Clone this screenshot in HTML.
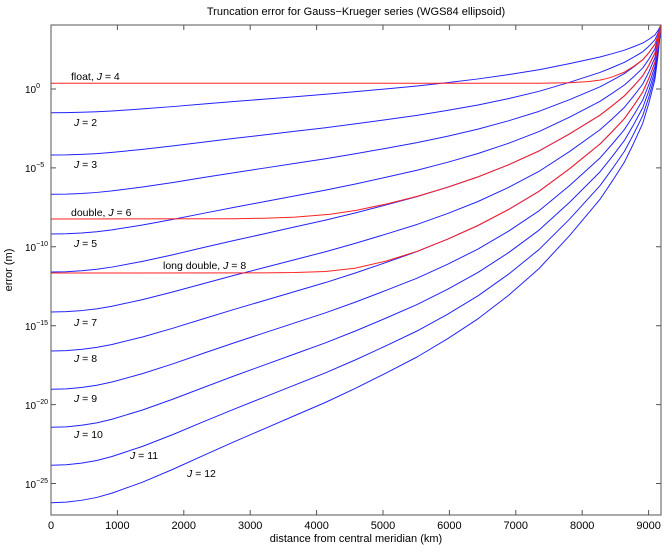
<!DOCTYPE html>
<html><head><meta charset="utf-8"><style>
html,body{margin:0;padding:0;background:#fff;}
svg{display:block;font-family:"Liberation Sans",sans-serif;}
</style></head><body>
<svg width="672" height="552" viewBox="0 0 672 552" xmlns="http://www.w3.org/2000/svg">
<defs>
<polyline id="b" fill="none" stroke="#2222ff" stroke-width="1" vector-effect="non-scaling-stroke" stroke-linejoin="round"
points="0,0 0.025,0.0012 0.05,0.005 0.075,0.011 0.1,0.02 0.15,0.043 0.2,0.07 0.25,0.099 0.3,0.1275 0.35,0.155 0.4,0.1825 0.45,0.21 0.5,0.24 0.55,0.272 0.6,0.305 0.65,0.343 0.7,0.385 0.75,0.434 0.8,0.49 0.85,0.559 0.9,0.635 0.92,0.673 0.94,0.713 0.955,0.752 0.97,0.794 0.98,0.836 0.99,0.886 0.995,0.935 1,1"/>
</defs>
<rect x="0" y="0" width="672" height="552" fill="#fff"/>
<text x="356" y="15" font-size="11" text-anchor="middle">Truncation error for Gauss−Krueger series (WGS84 ellipsoid)</text>
<g>
<use href="#b" transform="translate(51,112.7) scale(610,-87.7)"/>
<use href="#b" transform="translate(51,155) scale(610,-130)"/>
<use href="#b" transform="translate(51,194.3) scale(610,-169.3)"/>
<use href="#b" transform="translate(51,234) scale(610,-209)"/>
<use href="#b" transform="translate(51,272) scale(610,-247)"/>
<use href="#b" transform="translate(51,312) scale(610,-287)"/>
<use href="#b" transform="translate(51,351) scale(610,-326)"/>
<use href="#b" transform="translate(51,389.3) scale(610,-364.3)"/>
<use href="#b" transform="translate(51,427.3) scale(610,-402.3)"/>
<use href="#b" transform="translate(51,465.3) scale(610,-440.3)"/>
<use href="#b" transform="translate(51,502.7) scale(610,-477.7)"/>
</g>
<g transform="translate(51,0) scale(610,1)" fill="none" stroke="#ff2222" stroke-width="1" stroke-linejoin="round">
<polyline vector-effect="non-scaling-stroke" points="0,83.3 0.8,83.2 0.85,82.7 0.88,81.6 0.9,80.1 0.911,78.55 0.92,76.95 0.94,72.1 0.955,66.4 0.97,59.7 0.98,52.8 0.99,44.3 0.995,36 1,25"/>
<polyline vector-effect="non-scaling-stroke" points="0,219 0.3,218.7 0.35,218.2 0.4,217.1 0.458,214.25 0.5,210.4 0.55,204 0.6,196.4 0.65,187.3 0.7,176.9 0.75,164.8 0.8,151 0.85,133.9 0.9,115.2 0.92,105.8 0.94,95.9 0.955,86.3 0.97,75.9 0.98,65.5 0.99,53.2 0.995,41.1 1,25"/>
<polyline vector-effect="non-scaling-stroke" points="0,273 0.35,272.9 0.4,272.55 0.45,271.5 0.498,268.2 0.55,261 0.6,251.3 0.65,239.2 0.7,225.5 0.75,209.5 0.8,191.3 0.85,168.8 0.9,144 0.92,131.6 0.94,118.6 0.955,105.8 0.97,92.2 0.98,78.5 0.99,62.2 0.995,46.2 1,25"/>
</g>
<rect x="51" y="25" width="610" height="490" fill="none" stroke="#555" stroke-width="1"/>
<g stroke="#555" stroke-width="1">
<path d="M117.4,515v-5M183.8,515v-5M250.2,515v-5M316.6,515v-5M383,515v-5M449.4,515v-5M515.8,515v-5M582.2,515v-5M648.6,515v-5
M117.4,25v5M183.8,25v5M250.2,25v5M316.6,25v5M383,25v5M449.4,25v5M515.8,25v5M582.2,25v5M648.6,25v5
M51,89h5M51,167.9h5M51,246.8h5M51,325.7h5M51,404.6h5M51,483.5h5
M661,89h-5M661,167.9h-5M661,246.8h-5M661,325.7h-5M661,404.6h-5M661,483.5h-5"/>
</g>
<g font-size="11" text-anchor="middle">
<text x="51" y="529">0</text><text x="117.4" y="529">1000</text><text x="183.8" y="529">2000</text>
<text x="250.2" y="529">3000</text><text x="316.6" y="529">4000</text><text x="383" y="529">5000</text>
<text x="449.4" y="529">6000</text><text x="515.8" y="529">7000</text><text x="582.2" y="529">8000</text>
<text x="648.6" y="529">9000</text>
<text x="356" y="542">distance from central meridian (km)</text>
</g>
<text transform="translate(12,270) rotate(-90)" font-size="11" text-anchor="middle">error (m)</text>
<g font-size="10" text-anchor="start">
<text x="25" y="93">10<tspan font-size="7" dy="-5">0</tspan></text>
<text x="25" y="172">10<tspan font-size="7" dy="-5">−5</tspan></text>
<text x="25" y="251">10<tspan font-size="7" dy="-5">−10</tspan></text>
<text x="25" y="330">10<tspan font-size="7" dy="-5">−15</tspan></text>
<text x="25" y="409">10<tspan font-size="7" dy="-5">−20</tspan></text>
<text x="25" y="488">10<tspan font-size="7" dy="-5">−25</tspan></text>
</g>
<g font-size="10.5">
<text x="71" y="80">float,  <tspan font-style="italic">J</tspan> = 4</text>
<text x="74" y="126"><tspan font-style="italic">J</tspan> = 2</text>
<text x="74" y="168"><tspan font-style="italic">J</tspan> = 3</text>
<text x="71" y="216">double,  <tspan font-style="italic">J</tspan> = 6</text>
<text x="74" y="247"><tspan font-style="italic">J</tspan> = 5</text>
<text x="163" y="269">long double,  <tspan font-style="italic">J</tspan> = 8</text>
<text x="74" y="326"><tspan font-style="italic">J</tspan> = 7</text>
<text x="74" y="362"><tspan font-style="italic">J</tspan> = 8</text>
<text x="74" y="402"><tspan font-style="italic">J</tspan> = 9</text>
<text x="74" y="438"><tspan font-style="italic">J</tspan> = 10</text>
<text x="130" y="459"><tspan font-style="italic">J</tspan> = 11</text>
<text x="187" y="477"><tspan font-style="italic">J</tspan> = 12</text>
</g>
</svg>
</body></html>
